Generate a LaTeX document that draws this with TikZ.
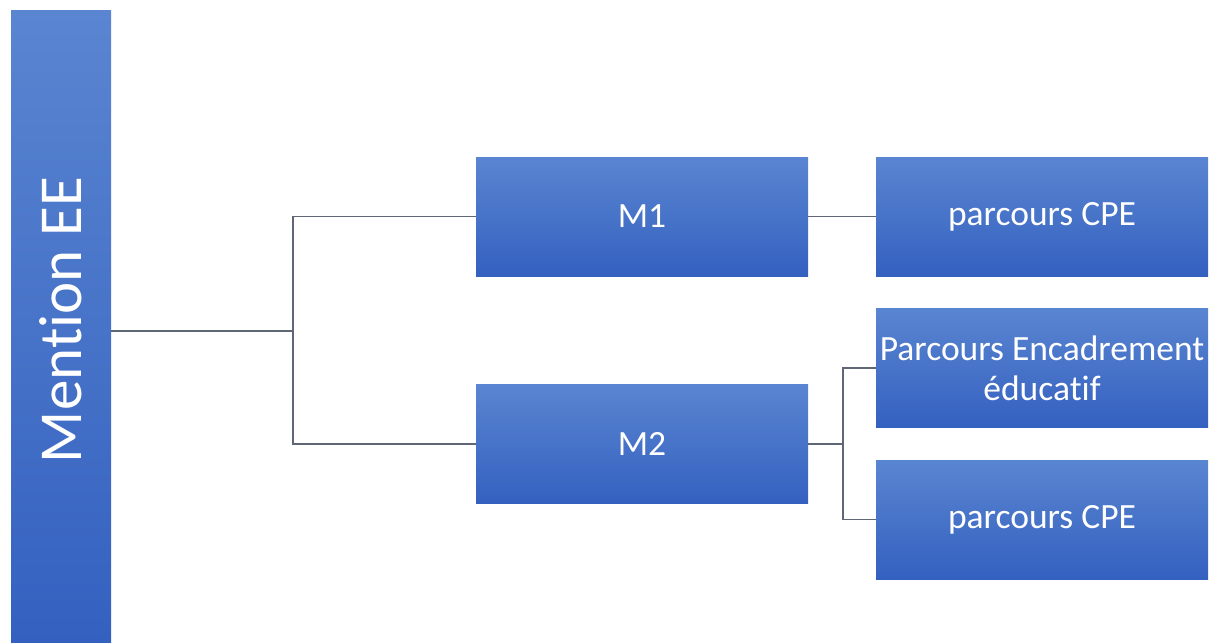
\documentclass[tikz,border=0pt]{standalone}
\usepackage{fontspec}
\setmainfont{Carlito}[Ligatures={NoCommon}]
\definecolor{boxtop}{HTML}{5A85D1}
\definecolor{boxbot}{HTML}{3461C0}
\definecolor{linec}{HTML}{5F6675}
\begin{document}
\begin{tikzpicture}[x=1pt,y=-1pt,
  blk/.style={rectangle, draw=none, top color=boxtop, bottom color=boxbot,
    text=white, font=\fontsize{35.5}{40}\selectfont, align=center, inner sep=0pt,
    minimum width=332pt, minimum height=119pt},
  conn/.style={draw=linec, line width=1.8pt}]
\useasboundingbox (0,0) rectangle (1214,643);
\fill[white] (0,0) rectangle (1214,643);
\node[rectangle, top color=boxtop, bottom color=boxbot, minimum width=100pt, minimum height=632pt, inner sep=0pt] (ment) at (61,326) {};
\node[text=white, rotate=90, font=\fontsize{61}{64}\selectfont] (menttext) at (61,320) {Mention EE};
\node[blk] (m1) at (642,216.5) {M1};
\node[blk] (m2) at (642,444) {M2};
\node[blk] (cpe1) at (1042,216.5) {parcours CPE};
\node[blk] (enc) at (1042,368) {Parcours Encadrement\\éducatif};
\node[blk] (cpe2) at (1042,519.5) {parcours CPE};
\coordinate (j1) at (293,331);
\coordinate (j2) at (843,444);
\draw[conn] (ment.east |- j1) -- (j1);
\draw[conn] (j1) |- (m1.west);
\draw[conn] (j1) |- (m2.west);
\draw[conn] (m1.east) -- (cpe1.west);
\draw[conn] (m2.east) -- (j2);
\draw[conn] (j2) |- (enc.west);
\draw[conn] (j2) |- (cpe2.west);
\end{tikzpicture}
\end{document}
